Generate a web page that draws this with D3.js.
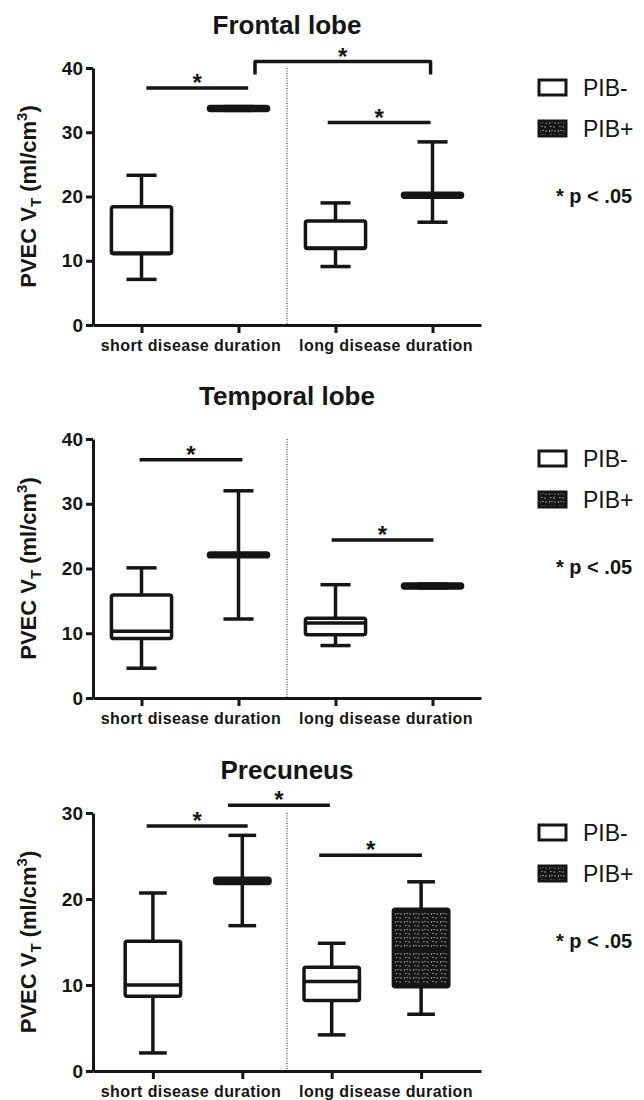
<!doctype html>
<html>
<head>
<meta charset="utf-8">
<title>PVEC VT by disease duration and PIB status</title>
<script src="https://d3js.org/d3.v7.min.js"></script>
<style>
  body { margin: 0; background: #fff; }
  svg { display: block; font-family: "Liberation Sans", Arial, sans-serif; }
</style>
</head>
<body>
<svg id="chart" width="644" height="1100"></svg>
<script>
// categories
var groups = ["short PIB-", "short PIB+", "long PIB-", "long PIB+"];
var durations = ["short disease duration", "long disease duration"];
var legendLabels = ["PIB-", "PIB+"];
var regions = ["Frontal lobe", "Temporal lobe", "Precuneus"];

// box stats, one row per group: [min, q1, median, q3, max]
var frontalBoxes = [
  [7.1, 11.1, 11.2, 18.4, 23.3],
  [33.4, 33.4, 33.7, 34.0, 34.0],
  [9.1, 11.9, 12.0, 16.2, 19.0],
  [16.0, 19.9, 20.2, 20.5, 28.5]
];
var temporalBoxes = [
  [4.6, 9.2, 10.3, 15.9, 20.1],
  [12.2, 21.8, 22.1, 22.4, 32.0],
  [8.1, 9.75, 11.6, 12.3, 17.5],
  [17.0, 17.0, 17.3, 17.6, 17.6]
];
var precuneusBoxes = [
  [2.1, 8.7, 10.0, 15.1, 20.7],
  [16.9, 21.8, 22.1, 22.4, 27.4],
  [4.2, 8.2, 10.4, 12.05, 14.85],
  [6.6, 9.8, 14.0, 18.8, 22.0]
];

// y axis ticks
var frontalTicks = [0, 10, 20, 30, 40];
var temporalTicks = [0, 10, 20, 30, 40];
var precuneusTicks = [0, 10, 20, 30];

// significance bars: [from group index, to group index, y value, bracket]
var frontalSig = [[0.05, 1.10, 36.9, 0], [1.17, 2.98, 41.0, 1], [1.92, 2.98, 31.5, 0]];
var temporalSig = [[-0.02, 1.04, 36.8, 0], [1.96, 3.01, 24.4, 0]];
var precuneusSig = [[-0.07, 1.06, 28.5, 0], [0.84, 1.98, 30.9, 0], [1.86, 3.01, 25.1, 0]];

var ink = "#151515";
var svg = d3.select("#chart");

// dark fill with small white dashes for PIB+
var defs = svg.append("defs");
var pat = defs.append("pattern")
  .attr("id", "pibplus")
  .attr("width", 9).attr("height", 8)
  .attr("patternUnits", "userSpaceOnUse");
pat.append("rect").attr("width", 9).attr("height", 8).attr("fill", ink);
pat.append("path")
  .attr("d", "M1.5,1v2M3.2,1.5h1.6M7,1v2M2,5.5h1.6M6,5v2")
  .attr("stroke", "#fff").attr("stroke-width", 0.55).attr("fill", "none");

var panels = [
  {title: regions[0], boxes: frontalBoxes, ticks: frontalTicks, sig: frontalSig, top: 68, bottom: 325, pad: 0.5},
  {title: regions[1], boxes: temporalBoxes, ticks: temporalTicks, sig: temporalSig, top: 439, bottom: 698, pad: 0.5},
  {title: regions[2], boxes: precuneusBoxes, ticks: precuneusTicks, sig: precuneusSig, top: 813, bottom: 1071, pad: 0.67}
];

var left = 93, right = 481;

panels.forEach(function(p) {
  var g = svg.append("g");
  var maxTick = d3.max(p.ticks);

  var y = d3.scaleLinear().domain([0, maxTick]).range([p.bottom, p.top]);
  var x = d3.scalePoint().domain(groups).range([left, right]).padding(p.pad);
  var step = x.step();
  var xi = function(i) { return x(groups[0]) + i * step; };
  var bw = step * 0.62;

  // title
  g.append("text")
    .attr("x", (left + right) / 2)
    .attr("y", p.top - 34)
    .attr("text-anchor", "middle")
    .style("font-size", "26px")
    .style("font-weight", "bold")
    .attr("fill", ink)
    .text(p.title);

  // y axis
  var yAxis = g.append("g")
    .attr("transform", "translate(" + left + ",0)")
    .call(d3.axisLeft(y).tickValues(p.ticks).tickSize(7).tickSizeOuter(0).tickPadding(3));
  yAxis.selectAll("path, line").attr("stroke", ink).attr("stroke-width", 3);
  yAxis.selectAll("text")
    .attr("fill", ink)
    .style("font-size", "19px")
    .style("font-weight", "bold")
    .style("font-family", "'Liberation Sans', Arial, sans-serif");

  // x axis
  var xAxis = g.append("g")
    .attr("transform", "translate(0," + p.bottom + ")")
    .call(d3.axisBottom(x).tickSize(8).tickSizeOuter(0).tickFormat(""));
  xAxis.selectAll("path, line").attr("stroke", ink).attr("stroke-width", 3);

  // divider between durations
  g.append("line")
    .attr("x1", xi(1.5)).attr("x2", xi(1.5))
    .attr("y1", p.top).attr("y2", p.bottom)
    .attr("stroke", ink).attr("stroke-width", 1)
    .attr("stroke-dasharray", "1,1.5");

  // duration labels
  var mid = xi(1.5);
  g.selectAll(".dur")
    .data(durations)
    .enter().append("text")
    .attr("x", function(d, i) { return i === 0 ? (left + mid) / 2 + 1 : (mid + right) / 2 + 2; })
    .attr("y", p.bottom + 26)
    .attr("text-anchor", "middle")
    .style("font-size", "16px")
    .style("font-weight", "bold")
    .style("letter-spacing", "0.4px")
    .attr("fill", ink)
    .text(function(d) { return d; });

  // y label
  var yl = g.append("text")
    .attr("transform", "translate(36," + (p.top + p.bottom) / 2 + ") rotate(-90)")
    .attr("text-anchor", "middle")
    .style("font-size", "22px")
    .style("font-weight", "bold")
    .attr("fill", ink);
  yl.append("tspan").text("PVEC V");
  yl.append("tspan").attr("dy", 5).style("font-size", "15px").text("T");
  yl.append("tspan").attr("dy", -5).text(" (ml/cm");
  yl.append("tspan").attr("dy", -9).style("font-size", "15px").text("3");
  yl.append("tspan").attr("dy", 9).text(")");

  // boxes
  var box = g.selectAll(".box")
    .data(p.boxes)
    .enter().append("g")
    .attr("transform", function(d, i) { return "translate(" + x(groups[i]) + ",0)"; });

  box.append("line")
    .attr("x1", 0).attr("x2", 0)
    .attr("y1", function(d) { return y(d[4]); })
    .attr("y2", function(d) { return y(d[0]); })
    .attr("stroke", ink).attr("stroke-width", 3.5);
  box.selectAll(".cap")
    .data(function(d) { return [d[0], d[4]]; })
    .enter().append("line")
    .attr("x1", -bw / 4).attr("x2", bw / 4)
    .attr("y1", function(v) { return y(v); })
    .attr("y2", function(v) { return y(v); })
    .attr("stroke", ink).attr("stroke-width", 3.5);
  box.append("rect")
    .attr("x", -bw / 2)
    .attr("width", bw)
    .attr("y", function(d) { return y(d[3]); })
    .attr("height", function(d) { return y(d[1]) - y(d[3]); })
    .attr("rx", 2)
    .attr("fill", function(d, i) { return i % 2 ? "url(#pibplus)" : "#fff"; })
    .attr("stroke", ink).attr("stroke-width", 3.5)
    .attr("stroke-linejoin", "round");
  box.append("line")
    .attr("x1", -bw / 2).attr("x2", bw / 2)
    .attr("y1", function(d) { return y(d[2]); })
    .attr("y2", function(d) { return y(d[2]); })
    .attr("stroke", ink).attr("stroke-width", 3.5);

  // significance
  p.sig.forEach(function(s) {
    var x1 = xi(s[0]), x2 = xi(s[1]), yy = y(s[2]);
    if (s[3]) {
      g.append("path")
        .attr("d", "M" + x1 + "," + (yy + 13) + "V" + yy + "H" + x2 + "V" + (yy + 13))
        .attr("fill", "none").attr("stroke", ink).attr("stroke-width", 3.5)
        .attr("stroke-linejoin", "round");
    } else {
      g.append("line")
        .attr("x1", x1).attr("x2", x2).attr("y1", yy).attr("y2", yy)
        .attr("stroke", ink).attr("stroke-width", 3.5);
    }
    g.append("text")
      .attr("x", (x1 + x2) / 2)
      .attr("y", yy + 3)
      .attr("text-anchor", "middle")
      .style("font-size", "24px")
      .style("font-weight", "bold")
      .attr("fill", ink)
      .text("*");
  });

  // legend
  var lg = g.selectAll(".leg")
    .data(legendLabels)
    .enter().append("g")
    .attr("transform", function(d, i) { return "translate(539," + (p.top + 12 + i * 41) + ")"; });
  lg.append("rect")
    .attr("width", 27).attr("height", 15)
    .attr("fill", function(d, i) { return i ? "url(#pibplus)" : "#fff"; })
    .attr("stroke", ink).attr("stroke-width", 3);
  lg.append("text")
    .attr("x", 44).attr("y", 8)
    .attr("dy", "0.35em")
    .style("font-size", "23px")
    .attr("fill", ink)
    .text(function(d) { return d; });

  g.append("text")
    .attr("x", 556)
    .attr("y", p.top + 135)
    .style("font-size", "20px")
    .style("font-weight", "bold")
    .attr("fill", ink)
    .text("* p < .05");
});
</script>
</body>
</html>
